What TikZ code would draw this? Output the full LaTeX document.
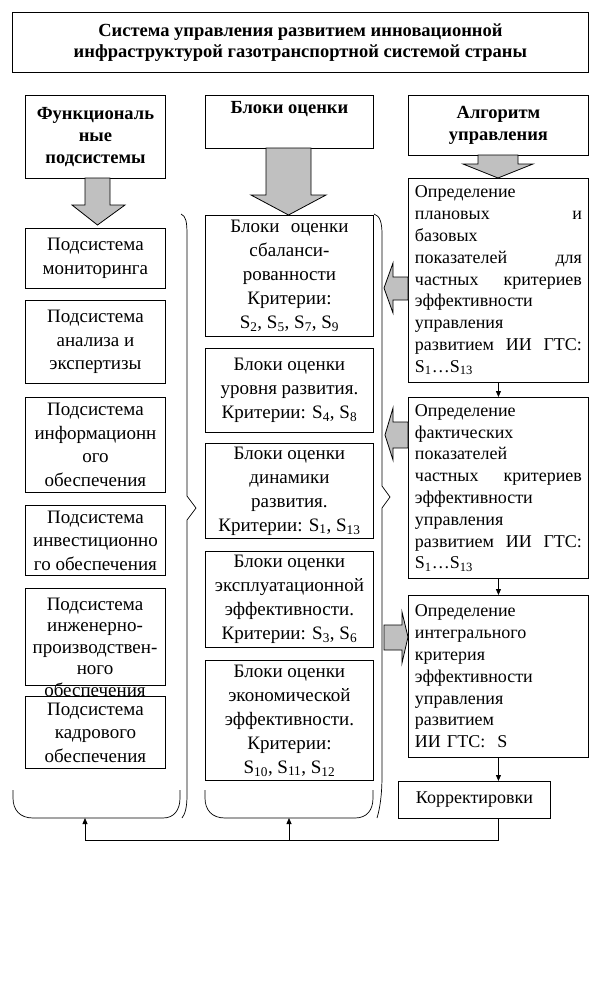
\documentclass[tikz,border=0pt]{standalone}
\usepackage{fontspec}
\setmainfont{Liberation Serif}
\usetikzlibrary{arrows.meta}
\definecolor{arrgray}{RGB}{192,192,192}
\tikzset{
  box/.style={draw, line width=0.9pt, fill=white, align=center, inner xsep=2pt, inner ysep=0pt,
    anchor=north west, font=\fontsize{19}{23.5}\selectfont},
  mbox/.style={box, font=\fontsize{19}{24}\selectfont},
  hbox/.style={box, font=\bfseries\fontsize{18.5}{22}\selectfont},
  rbox/.style={box, align=left, text width=167pt, inner xsep=6.5pt, font=\fontsize{18}{21.8}\selectfont},
  garrow/.style={draw, line width=0.8pt, fill=arrgray},
  conn/.style={draw, line width=0.8pt, -{Triangle[length=6pt,width=5pt]}},
  brace/.style={draw, line width=0.7pt},
}
\begin{document}
\begin{tikzpicture}[x=1pt,y=-1pt]
\useasboundingbox (0,0) rectangle (601,985);
\fill[white] (0,0) rectangle (601,985);

% title
\node[hbox, minimum width=576pt, minimum height=60pt, font=\bfseries\fontsize{18.5}{21}\selectfont] (title) at (12,12)
  {Система управления развитием инновационной\\инфраструктурой газотранспортной системой страны};

% headers
\node[hbox, minimum width=140pt, minimum height=83pt] (lh) at (25,95)
  {Функциональ\\ные\\подсистемы};
\node[hbox, minimum width=168pt, minimum height=53pt] (mh) at (205,95) {};
\node[font=\bfseries\fontsize{18.5}{22}\selectfont, anchor=north, inner sep=0pt] (mht) at (mh.north) [yshift=-6pt] {Блоки оценки};
\node[hbox, minimum width=180pt, minimum height=60pt] (rh) at (408,95)
  {Алгоритм\\управления};

% left column
\node[box, minimum width=140pt, minimum height=60pt] (l1) at (25,228) {Подсистема\\мониторинга};
\node[box, minimum width=140pt, minimum height=83pt] (l2) at (25,300) {Подсистема\\анализа и\\экспертизы};
\node[box, minimum width=140pt, minimum height=95pt] (l3) at (25,397) {Подсистема\\информационн\\ого\\обеспечения};
\node[box, minimum width=140pt, minimum height=70pt] (l4) at (25,505) {Подсистема\\инвестиционно\\го обеспечения};
\node[box, minimum width=140pt, minimum height=97pt] (l5) at (25,588) {};
\node[align=center, anchor=base, inner sep=0pt, font=\fontsize{19}{21.5}\selectfont] (l5t) at (95,696)
  {Подсистема\\инженерно-\\производствен-\\ного\\обеспечения};
\node[box, minimum width=140pt, minimum height=72pt] (l6) at (25,696) {Подсистема\\кадрового\\обеспечения};

% middle column
\node[mbox, minimum width=168pt, minimum height=121pt] (m1) at (205,215)
  {Блоки\hspace{0.6em}оценки\\сбаланси-\\рованности\\Критерии:\\S\textsubscript{2}, S\textsubscript{5}, S\textsubscript{7}, S\textsubscript{9}};
\node[mbox, minimum width=168pt, minimum height=84pt] (m2) at (205,348)
  {Блоки оценки\\уровня развития.\\Критерии: S\textsubscript{4}, S\textsubscript{8}};
\node[mbox, minimum width=168pt, minimum height=95pt] (m3) at (205,443)
  {Блоки оценки\\динамики\\развития.\\Критерии: S\textsubscript{1}, S\textsubscript{13}};
\node[mbox, minimum width=168pt, minimum height=96pt] (m4) at (205,551)
  {Блоки оценки\\эксплуатационной\\эффективности.\\Критерии: S\textsubscript{3}, S\textsubscript{6}};
\node[mbox, minimum width=168pt, minimum height=120pt] (m5) at (205,660)
  {Блоки оценки\\экономической\\эффективности.\\Критерии:\\S\textsubscript{10}, S\textsubscript{11}, S\textsubscript{12}};

% right column
\node[rbox, minimum height=204pt] (r1) at (408,178)
  {Определение\\плановых\hfill и\\базовых\\показателей\hfill для\\частных\hfill критериев\\эффективности\\управления\\развитием\hfill ИИ\hfill ГТС:\\S\textsubscript{1}…S\textsubscript{13}};
\node[rbox, minimum height=181pt] (r2) at (408,397)
  {Определение\\фактических\\показателей\\частных\hfill критериев\\эффективности\\управления\\развитием\hfill ИИ\hfill ГТС:\\S\textsubscript{1}…S\textsubscript{13}};
\node[rbox, minimum height=162pt] (r3) at (408,595)
  {Определение\\интегрального\\критерия\\эффективности\\управления\\развитием\\ИИ ГТС:\ \ S};
\node[box, minimum width=152pt, minimum height=37pt, font=\fontsize{18}{21}\selectfont] (kor) at (398,781) {Корректировки};

% gray block arrows (down)
\path[garrow] (85,178) -- (110,178) -- (110,205) -- (125,205) -- (97.5,225) -- (72,205) -- (85,205) -- cycle;
\path[garrow] (266,148) -- (311,148) -- (311,195) -- (326,195) -- (288.5,215) -- (251,195) -- (266,195) -- cycle;
\path[garrow] (478,155) -- (518,155) -- (518,164) -- (533,164) -- (498,178) -- (463,164) -- (478,164) -- cycle;
% gray block arrows (sideways)
\path[garrow] (408,277) -- (393,277) -- (393,263) -- (384,288) -- (393,313) -- (393,300) -- (408,300) -- cycle;
\path[garrow] (408,422) -- (393,422) -- (393,408) -- (385,435) -- (393,460) -- (393,448) -- (408,448) -- cycle;
\path[garrow] (384,625) -- (402,625) -- (402,612) -- (408,637) -- (402,663) -- (402,650) -- (384,650) -- cycle;

% braces
\path[brace] (181,214) .. controls (186,216) and (187,222) .. (187,235) -- (187,496) -- (196,508) -- (187,520)
  -- (187,795) .. controls (187,808) and (185,814) .. (182,818);
\path[brace] (13,790) -- (13,798) .. controls (13,810) and (20,818) .. (33,818) -- (163,818)
  .. controls (174,818) and (180,810) .. (180,798) -- (180,790);
\path[brace] (374,214) .. controls (380,216) and (382,222) .. (382,235) -- (382,486) -- (390,497) -- (382,508)
  -- (382,775) .. controls (382,795) and (380,808) .. (377,818);
\path[brace] (205,790) -- (205,798) .. controls (205,810) and (212,818) .. (225,818) -- (355,818)
  .. controls (367,818) and (373,810) .. (373,798) -- (373,790);

\coordinate (lbb) at (85,818);
\coordinate (mbb) at (289,818);
\coordinate (fbl) at (85,840);
\coordinate (fbm) at (289,840);

% connectors
\path[conn] (r1.south) -- (r2.north);
\path[conn] (r2.south) -- (r3.north);
\path[conn] (r3.south) -- (r3.south |- kor.north);
\path[draw, line width=0.8pt] (r3.south |- kor.south) |- (fbl);
\path[conn] (fbl) -- (lbb);
\path[conn] (fbm) -- (mbb);
\end{tikzpicture}
\end{document}
